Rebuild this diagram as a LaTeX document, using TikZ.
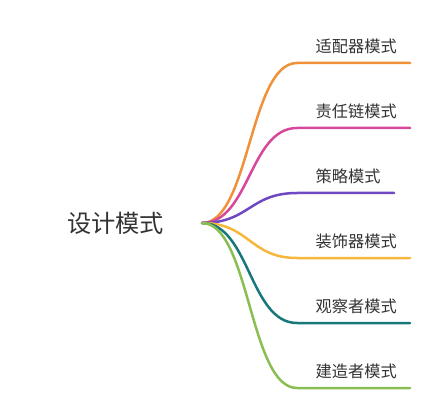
\documentclass[tikz,border=0pt]{standalone}
\usepackage{fontspec}
\newfontfamily\cjk{Noto Sans CJK SC}
\definecolor{corange}{HTML}{F0913A}
\definecolor{cpink}{HTML}{D6489A}
\definecolor{cpurple}{HTML}{7049C2}
\definecolor{cyellow}{HTML}{F6B73C}
\definecolor{cteal}{HTML}{18777A}
\definecolor{cgreen}{HTML}{8BBE52}
\definecolor{ctext}{HTML}{333333}
\tikzset{
  lbl/.style={font=\cjk\fontsize{16.2}{19}\selectfont, text=ctext, anchor=base west, inner sep=0pt},
  branch/.style={line width=2.5pt, line cap=round},
}
\begin{document}
\begin{tikzpicture}[x=1pt,y=-1pt]
\useasboundingbox (0,0) rectangle (440,420);
\node[font=\cjk\fontsize{24.2}{29}\selectfont, text=ctext, anchor=base west, inner sep=0pt] (root) at (67,232.5) {设计模式};
\coordinate (r) at (202,223);
\foreach \y/\c/\e/\t/\n in {63/corange/410/适配器模式/a, 128/cpink/410/责任链模式/b, 193/cpurple/394/策略模式/c, 258/cyellow/410/装饰器模式/d, 323/cteal/410/观察者模式/e, 388/cgreen/410/建造者模式/f}{
  \coordinate (s\n) at (297,\y);
  \coordinate (e\n) at (\e,\y);
  \draw[branch, \c] (r) .. controls (249.5,223) and (249.5,\y) .. (s\n) -- (e\n);
  \node[lbl] (l\n) at (315.5,\y-10.5) {\t};
}
\end{tikzpicture}
\end{document}
